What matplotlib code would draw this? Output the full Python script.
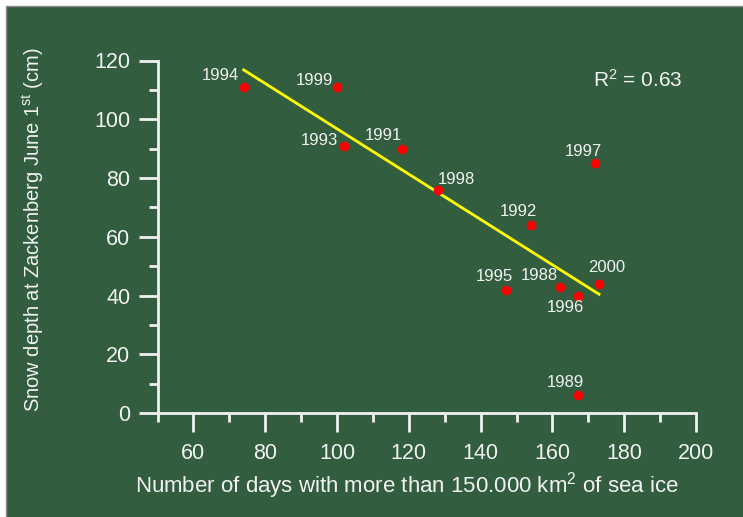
import numpy as np
import matplotlib
matplotlib.use("Agg")
import matplotlib.pyplot as plt
from matplotlib.patches import Rectangle

# data
years = ["1994", "1999", "1993", "1991", "1998", "1992", "1997", "1995", "1988", "1996", "2000", "1989"]
ice_days = [74, 100, 102, 118, 128, 154, 172, 147, 162, 167, 173, 167]
snow_depth = [111, 111, 91, 90, 76, 64, 85, 42, 43, 40, 44, 6]

# label offsets from each point, in pixels
label_dx = [-23, -23, -25, -18, 19, -12, -12, -11, -20, -12, 8, -12]
label_dy = [11, 6, 5, 13, 10, 13, 12, 13, 11, -12, 16, 13]

plt.rcParams['font.family'] = ['Liberation Sans', 'DejaVu Sans']
plt.rcParams['mathtext.fontset'] = 'custom'
plt.rcParams['mathtext.rm'] = 'Liberation Sans'
plt.rcParams['mathtext.it'] = 'Liberation Sans:italic'

green = '#325d3e'
fg = '#f2f2f2'

fig = plt.figure(figsize=(7.43, 5.17), dpi=100, facecolor='white')
fig.patches.append(Rectangle((6 / 743, -0.01), 1.0, 1 - 6 / 517 + 0.01,
                             transform=fig.transFigure, facecolor=green,
                             edgecolor='#8a8a8a', lw=1, zorder=-10))

ax = fig.add_axes([157.5 / 743, 1 - 413 / 517, (696 - 157.5) / 743, (413 - 60.5) / 517])
ax.set_facecolor('none')
ax.set_xlim(50, 200)
ax.set_ylim(0, 120)

for s in ['top', 'right']:
    ax.spines[s].set_visible(False)
for s in ['left', 'bottom']:
    ax.spines[s].set_color(fg)
    ax.spines[s].set_linewidth(2)

ax.set_xticks(np.arange(60, 201, 20))
ax.set_xticks(np.arange(50, 200, 20), minor=True)
ax.set_yticks(np.arange(0, 121, 20))
ax.set_yticks(np.arange(10, 120, 20), minor=True)
ax.tick_params(axis='both', which='major', length=13.5, width=2, color=fg,
               labelcolor=fg, labelsize=15.5)
ax.tick_params(axis='both', which='minor', length=6.5, width=2, color=fg)
ax.tick_params(axis='x', which='major', pad=8)
ax.tick_params(axis='y', which='major', pad=6)

# regression line
slope, intercept = np.polyfit(ice_days, snow_depth, 1)
xs = np.array([min(ice_days), max(ice_days)])
ax.plot(xs, slope * xs + intercept, color='#ffff00', lw=2, zorder=2)

ax.plot(ice_days, snow_depth, 'o', color='#ff0000', ms=7, mec='none', zorder=3, clip_on=False)

for yr, x, y, dx, dy in zip(years, ice_days, snow_depth, label_dx, label_dy):
    ax.annotate(yr, (x, y), xytext=(dx, dy), textcoords='offset pixels',
                ha='center', va='center', color=fg, fontsize=12)

fig.text(593 / 743, 1 - 80 / 517, r'R$^2$ = 0.63',
         ha='left', va='center', color=fg, fontsize=15)

fig.text(407 / 743, 1 - 486 / 517, r'Number of days with more than 150.000 km$^2$ of sea ice',
         ha='center', va='center', color=fg, fontsize=16)
fig.text(33 / 743, 1 - 230 / 517, r'Snow depth at Zackenberg June 1$^{\mathrm{st}}$ (cm)',
         ha='center', va='center', rotation=90, color=fg, fontsize=14.5)

fig.savefig('out.png', dpi=100, facecolor='white')
